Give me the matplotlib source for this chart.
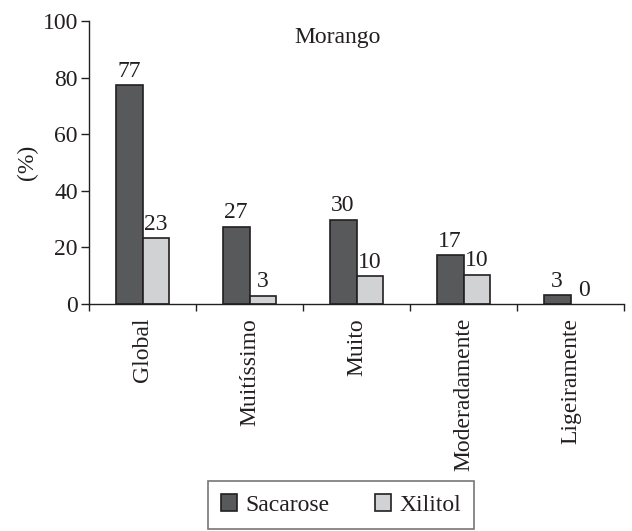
import matplotlib
matplotlib.use("Agg")
import matplotlib.pyplot as plt
import numpy as np

categories = ["Global", "Muitíssimo", "Muito", "Moderadamente", "Ligeiramente"]
sacarose = [77.3, 27.3, 29.8, 17.3, 3.2]
xilitol = [23.3, 3.0, 9.9, 10.3, 0.0]
sacarose_labels = ["77", "27", "30", "17", "3"]
xilitol_labels = ["23", "3", "10", "10", "0"]
yticks = [0, 20, 40, 60, 80, 100]

plt.rcParams['font.family'] = ['Liberation Serif', 'DejaVu Serif']
txt = '#231f20'
plt.rcParams['text.color'] = txt
plt.rcParams['axes.labelcolor'] = txt
plt.rcParams['xtick.color'] = txt
plt.rcParams['ytick.color'] = txt

FS = 17

fig = plt.figure(figsize=(6.32, 5.31), dpi=100)
ax = fig.add_axes([89/632, 1-304/531, (624-89)/632, (304-21)/531])

x = np.arange(len(categories))
w = 0.25
dark = '#58595b'
light = '#d1d2d4'
b1 = ax.bar(x - w/2, sacarose, w, color=dark, edgecolor=[txt if v > 0 else 'none' for v in sacarose],
            linewidth=1.2, label='Sacarose')
b2 = ax.bar(x + w/2, xilitol, w, color=light, edgecolor=[txt if v > 0 else 'none' for v in xilitol],
            linewidth=1.2, label='Xilitol')
for xi, v, l in zip(x, sacarose, sacarose_labels):
    ax.text(xi - w/2, v + 1.2, l, ha='center', va='bottom', fontsize=FS)
for xi, v, l in zip(x, xilitol, xilitol_labels):
    ax.text(xi + w/2, v + 1.2, l, ha='center', va='bottom', fontsize=FS)

ax.set_xlim(-0.5, len(categories) - 0.5)
ax.set_ylim(0, 100)
ax.set_yticks(yticks)
ax.tick_params(axis='y', labelsize=FS, length=6, width=1, pad=2)
ax.set_xticks(np.arange(len(categories) + 1) - 0.5)
ax.set_xticklabels([])
ax.tick_params(axis='x', which='major', length=5, width=1, direction='out')
ax.set_xticks(x, minor=True)
ax.set_xticklabels(categories, minor=True, rotation=90, fontsize=FS)
ax.tick_params(axis='x', which='minor', length=0, pad=10)
for s in ['top', 'right']:
    ax.spines[s].set_visible(False)
for s in ['left', 'bottom']:
    ax.spines[s].set_color(txt)
    ax.spines[s].set_linewidth(1)
ax.set_ylabel('(%)', fontsize=FS, labelpad=3)
ax.text((338-89)/535, 0.94, 'Morango', transform=ax.transAxes, ha='center', va='center', fontsize=FS)

leg = fig.legend(handles=[b1, b2], loc='center', bbox_to_anchor=(341/632, 1-505/531),
                 ncol=2, fontsize=FS, frameon=True, fancybox=False, edgecolor='#555555',
                 handlelength=0.68, handleheight=0.68, columnspacing=1.9, handletextpad=0.38,
                 borderpad=0.55)
leg.get_frame().set_linewidth(1.2)
for h in leg.legend_handles:
    h.set_edgecolor(txt)

fig.savefig('out.png', dpi=100)
